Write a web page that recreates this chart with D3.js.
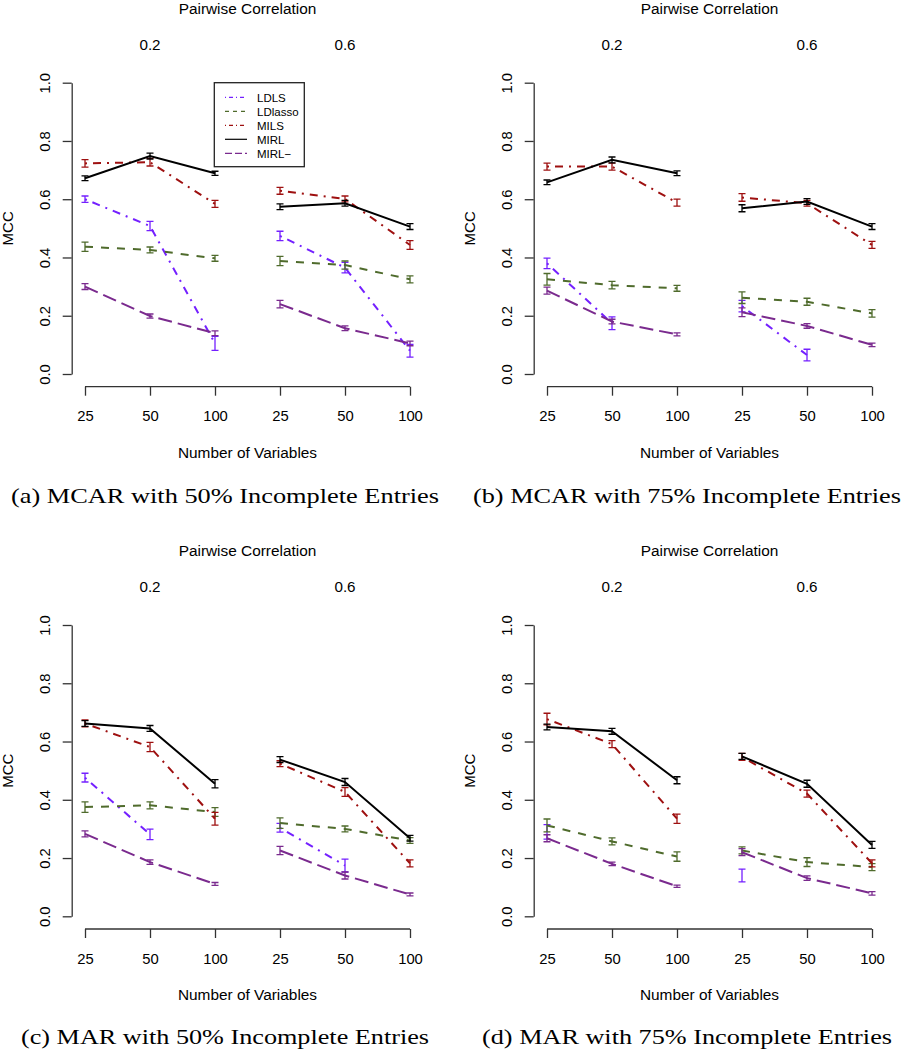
<!DOCTYPE html>
<html><head><meta charset="utf-8">
<script src="https://cdn.jsdelivr.net/npm/d3@7"></script>
<style>body{margin:0;background:#fff}svg{display:block}</style>
</head><body>
<svg id="chart" width="901" height="1050"></svg>
<script>
// ---------- data ----------
const correlations = ["0.2", "0.6"];
const numVars = ["25", "50", "100"];
const yTicks = [0, 0.2, 0.4, 0.6, 0.8, 1.0];
const methods = ["LDLS", "LDlasso", "MILS", "MIRL", "MIRL\u2212"];
const captions = [
  "(a) MCAR with 50% Incomplete Entries",
  "(b) MCAR with 75% Incomplete Entries",
  "(c) MAR with 50% Incomplete Entries",
  "(d) MAR with 75% Incomplete Entries"
];
// values in order: corr 0.2 (25,50,100), corr 0.6 (25,50,100)
const panelA_LDLS    = [0.600, 0.508, 0.105, 0.474, 0.365, 0.080];
const panelA_LDlasso = [0.437, 0.426, 0.397, 0.388, 0.374, 0.325];
const panelA_MILS    = [0.723, 0.727, 0.584, 0.629, 0.601, 0.443];
const panelA_MIRL    = [0.672, 0.748, 0.689, 0.574, 0.586, 0.506];
const panelA_MIRLm   = [0.300, 0.199, 0.140, 0.240, 0.157, 0.105];
const panelA_LDLS_err    = [0.011, 0.016, 0.024, 0.016, 0.018, 0.022];
const panelA_LDlasso_err = [0.016, 0.010, 0.010, 0.016, 0.014, 0.012];
const panelA_MILS_err    = [0.013, 0.013, 0.012, 0.012, 0.010, 0.015];
const panelA_MIRL_err    = [0.008, 0.010, 0.007, 0.010, 0.010, 0.010];
const panelA_MIRLm_err   = [0.010, 0.007, 0.008, 0.013, 0.008, 0.008];

const panelB_LDLS    = [0.380, 0.174, null, 0.233, 0.065, null];
const panelB_LDlasso = [0.325, 0.305, 0.294, 0.262, 0.248, 0.208];
const panelB_MILS    = [0.712, 0.712, 0.588, 0.606, 0.586, 0.443];
const panelB_MIRL    = [0.658, 0.735, 0.689, 0.569, 0.592, 0.506];
const panelB_MIRLm   = [0.286, 0.180, 0.136, 0.212, 0.165, 0.100];
const panelB_LDLS_err    = [0.018, 0.022, null, 0.020, 0.020, null];
const panelB_LDlasso_err = [0.020, 0.013, 0.010, 0.020, 0.012, 0.013];
const panelB_MILS_err    = [0.012, 0.012, 0.012, 0.013, 0.010, 0.012];
const panelB_MIRL_err    = [0.008, 0.010, 0.008, 0.012, 0.010, 0.010];
const panelB_MIRLm_err   = [0.012, 0.008, 0.005, 0.015, 0.008, 0.006];

const panelC_LDLS    = [0.476, 0.281, null, 0.304, 0.174, null];
const panelC_LDlasso = [0.375, 0.381, 0.358, 0.320, 0.300, 0.260];
const panelC_MILS    = [0.662, 0.581, 0.335, 0.524, 0.427, 0.182];
const panelC_MIRL    = [0.662, 0.645, 0.455, 0.538, 0.461, 0.268];
const panelC_MIRLm   = [0.283, 0.186, 0.111, 0.226, 0.140, 0.075];
const panelC_LDLS_err    = [0.015, 0.018, null, 0.015, 0.022, null];
const panelC_LDlasso_err = [0.018, 0.012, 0.015, 0.018, 0.010, 0.010];
const panelC_MILS_err    = [0.012, 0.016, 0.022, 0.010, 0.015, 0.012];
const panelC_MIRL_err    = [0.010, 0.010, 0.014, 0.010, 0.012, 0.010];
const panelC_MIRLm_err   = [0.010, 0.008, 0.005, 0.014, 0.012, 0.005];

const panelD_LDLS    = [0.290, null, null, 0.140, null, null];
const panelD_LDlasso = [0.312, 0.257, 0.205, 0.226, 0.186, 0.169];
const panelD_MILS    = [0.677, 0.591, 0.335, 0.547, 0.421, 0.182];
const panelD_MIRL    = [0.650, 0.635, 0.467, 0.549, 0.455, 0.245];
const panelD_MIRLm   = [0.268, 0.180, 0.103, 0.220, 0.131, 0.079];
const panelD_LDLS_err    = [0.025, null, null, 0.022, null, null];
const panelD_LDlasso_err = [0.022, 0.012, 0.016, 0.012, 0.015, 0.012];
const panelD_MILS_err    = [0.020, 0.012, 0.016, 0.012, 0.012, 0.012];
const panelD_MIRL_err    = [0.010, 0.010, 0.012, 0.010, 0.012, 0.012];
const panelD_MIRLm_err   = [0.012, 0.006, 0.004, 0.012, 0.008, 0.006];

// ---------- styles ----------
const colors = ["#7420ff", "#4f6b2c", "#9e1010", "#000000", "#7a2a8e"];
const dashes = ["2,6,8,6", "8,8", "2,6,8,6", null, "14,6"];
const legendDashes = ["1,3,4,3", "4,4", "1,3,4,3", null, "7,3"];

const panels = [
  {ox: 0,   oy: 0,     vals: [panelA_LDLS, panelA_LDlasso, panelA_MILS, panelA_MIRL, panelA_MIRLm],
   errs: [panelA_LDLS_err, panelA_LDlasso_err, panelA_MILS_err, panelA_MIRL_err, panelA_MIRLm_err], legend: true, cap: captions[0], capY: 503, capW: 428},
  {ox: 462, oy: 0,   vals: [panelB_LDLS, panelB_LDlasso, panelB_MILS, panelB_MIRL, panelB_MIRLm],
   errs: [panelB_LDLS_err, panelB_LDlasso_err, panelB_MILS_err, panelB_MIRL_err, panelB_MIRLm_err], legend: false, cap: captions[1], capY: 503, capW: 428},
  {ox: 0,   oy: 542.3, vals: [panelC_LDLS, panelC_LDlasso, panelC_MILS, panelC_MIRL, panelC_MIRLm],
   errs: [panelC_LDLS_err, panelC_LDlasso_err, panelC_MILS_err, panelC_MIRL_err, panelC_MIRLm_err], legend: false, cap: captions[2], capY: 1044, capW: 408},
  {ox: 462, oy: 542.3, vals: [panelD_LDLS, panelD_LDlasso, panelD_MILS, panelD_MIRL, panelD_MIRLm],
   errs: [panelD_LDLS_err, panelD_LDlasso_err, panelD_MILS_err, panelD_MIRL_err, panelD_MIRLm_err], legend: false, cap: captions[3], capY: 1044, capW: 410}
];

const svg = d3.select("#chart");
const SANS = "Liberation Sans, Arial, Helvetica, sans-serif";
const keys = [];
correlations.forEach(c => numVars.forEach(n => keys.push(c + "|" + n)));

const x = d3.scalePoint().domain(keys).range([85, 410]);
const y = d3.scaleLinear().domain([0, 1]).range([374, 82.7]);
const xAxisY = 386.7;
const yAxisX = 71.7;

panels.forEach(p => {
  const g = svg.append("g").attr("transform", `translate(${p.ox},${p.oy})`);

  // y axis
  const ya = g.append("g").attr("transform", `translate(${yAxisX},0)`)
    .call(d3.axisLeft(y).tickValues(yTicks).tickSize(9).tickSizeOuter(0).tickFormat(d3.format(".1f")));
  ya.select(".domain").attr("stroke", "#333").attr("stroke-width", 1.3);
  ya.selectAll(".tick line").attr("stroke", "#333").attr("stroke-width", 1.3);
  ya.selectAll(".tick text").remove();
  ya.selectAll(".tick").append("text")
    .attr("transform", "translate(-21.7,0) rotate(-90)")
    .attr("text-anchor", "middle").attr("fill", "#000")
    .attr("font-family", SANS).attr("font-size", 14.8)
    .text(d => d3.format(".1f")(d));

  // x axis (two groups)
  const xa = g.append("g").attr("transform", `translate(0,${xAxisY})`)
    .call(d3.axisBottom(x).tickSize(9).tickSizeOuter(0).tickFormat(k => k.split("|")[1]));
  xa.select(".domain").attr("stroke", "#333").attr("stroke-width", 1.3).attr("d", `M${x(keys[0])},0H${x(keys[5])}`);
  xa.selectAll(".tick line").attr("stroke", "#333").attr("stroke-width", 1.3);
  xa.selectAll(".tick text").attr("font-family", SANS).attr("font-size", 14.8).attr("fill", "#000")
    .attr("dy", null).attr("y", 34.5);

  // titles
  g.append("text").attr("x", (x(keys[0]) + x(keys[5])) / 2).attr("y", 458).attr("text-anchor", "middle")
    .attr("font-family", SANS).attr("font-size", 15.4).text("Number of Variables");
  g.append("text").attr("x", (x(keys[0]) + x(keys[5])) / 2).attr("y", 13.5).attr("text-anchor", "middle")
    .attr("font-family", SANS).attr("font-size", 15.4).text("Pairwise Correlation");
  correlations.forEach((c, i) => {
    g.append("text").attr("x", x(keys[i * 3 + 1])).attr("y", 49.5).attr("text-anchor", "middle")
      .attr("font-family", SANS).attr("font-size", 15.2).text(c);
  });
  g.append("text").attr("transform", `translate(12.7,${(y(0) + y(1)) / 2}) rotate(-90)`)
    .attr("text-anchor", "middle").attr("font-family", SANS).attr("font-size", 15).text("MCC");

  // series
  methods.forEach((m, si) => {
    const vals = p.vals[si], errs = p.errs[si];
    const pts = keys.map((k, i) => ({k, v: vals[i], e: errs[i], grp: i < 3 ? 0 : 1}));
    [0, 1].forEach(grp => {
      const gp = pts.filter(d => d.grp === grp);
      const line = d3.line().defined(d => d.v != null).x(d => x(d.k)).y(d => y(d.v));
      g.append("path").datum(gp).attr("d", line).attr("fill", "none")
        .attr("stroke", colors[si]).attr("stroke-width", 2)
        .attr("stroke-dasharray", dashes[si]);
    });
    const eb = g.append("g").attr("stroke", colors[si]).attr("stroke-width", 1.3).attr("fill", "none");
    pts.filter(d => d.v != null).forEach(d => {
      const cx = x(d.k), y1 = y(d.v - d.e), y2 = y(d.v + d.e);
      eb.append("path").attr("d", `M${cx},${y1}V${y2}M${cx - 3.5},${y1}H${cx + 3.5}M${cx - 3.5},${y2}H${cx + 3.5}`);
    });
  });

  // legend
  if (p.legend) {
    const lg = g.append("g");
    lg.append("rect").attr("x", 214.3).attr("y", y(1)).attr("width", 90).attr("height", 84)
      .attr("fill", "#fff").attr("stroke", "#222").attr("stroke-width", 1.3);
    methods.forEach((m, si) => {
      const ry = 97.3 + si * 14;
      lg.append("line").attr("x1", 225).attr("x2", 247).attr("y1", ry).attr("y2", ry)
        .attr("stroke", colors[si]).attr("stroke-width", 1.2).attr("stroke-dasharray", legendDashes[si]);
      lg.append("text").attr("x", 257).attr("y", ry + 4.2).attr("font-family", SANS)
        .attr("font-size", 11.5).text(m);
    });
  }

  // caption
  svg.append("text").attr("x", p.ox + 225).attr("y", p.capY).attr("text-anchor", "middle")
    .attr("font-family", "Liberation Serif, Times New Roman, serif").attr("font-size", 22)
    .attr("textLength", p.capW).attr("lengthAdjust", "spacingAndGlyphs").text(p.cap);
});
</script>
</body></html>
